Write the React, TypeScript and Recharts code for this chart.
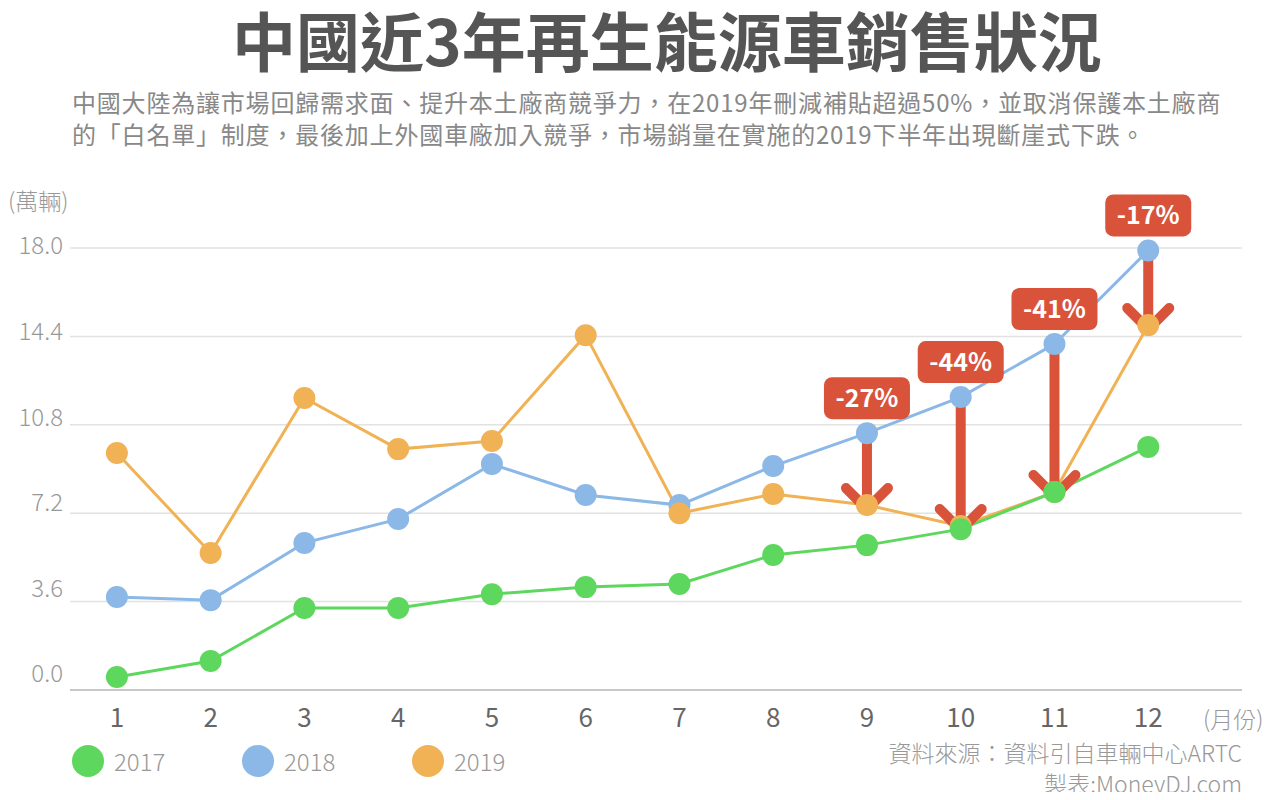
import {
    LineChart,
    Line,
    XAxis,
    YAxis,
    CartesianGrid,
    ReferenceLine,
    ReferenceDot,
} from "recharts";

const months = [1, 2, 3, 4, 5, 6, 7, 8, 9, 10, 11, 12];
const sales2017 = [0.53, 1.18, 3.34, 3.34, 3.9, 4.19, 4.32, 5.5, 5.9, 6.55, 8.06, 9.9];
const sales2018 = [3.79, 3.66, 5.99, 6.96, 9.2, 7.94, 7.53, 9.12, 10.46, 11.93, 14.09, 17.9];
const sales2019 = [9.65, 5.58, 11.89, 9.81, 10.14, 14.45, 7.2, 7.98, 7.53, 6.68, 8.06, 14.86];
const yTicks = [0, 3.6, 7.2, 10.8, 14.4, 18];
const dropMonths = [9, 10, 11, 12];
const dropLabels = ["-27%", "-44%", "-41%", "-17%"];

const GREEN = "#5dd75d";
const BLUE = "#8bb8e6";
const ORANGE = "#f0b254";
const RED = "#d9533a";
const FONT = "'Noto Sans CJK TC', 'Noto Sans', sans-serif";

const data = months.map((m, i) => ({
    month: m,
    y2017: sales2017[i],
    y2018: sales2018[i],
    y2019: sales2019[i],
}));

const legendItems = [
    { label: "2017", color: GREEN, x: 88 },
    { label: "2018", color: BLUE, x: 258 },
    { label: "2019", color: ORANGE, x: 428 },
];

// y tick labels in the original drift a bit above their grid lines
function YTick(props: any) {
    const { y, payload } = props;
    const shift = -2 - ((18 - payload.value) / 18) * 14;
    return (
        <text x={63} y={y + shift} dy="0.35em" textAnchor="end" fill="#999" fontSize={24} fontFamily={FONT} fontWeight={300}>
            {payload.value.toFixed(1)}
        </text>
    );
}

function XTick(props: any) {
    const { x, y, payload } = props;
    return (
        <text x={x} y={y + 20} dy="0.35em" textAnchor="middle" fill="#666" fontSize={26} fontFamily={FONT}>
            {payload.value}
        </text>
    );
}

function DropArrow(props: any) {
    const { x1, y1, x2, y2 } = props;
    const tip = y2 + 4;
    return (
        <g>
            <line x1={x1} y1={y1} x2={x2} y2={tip - 3} stroke={RED} strokeWidth={10} strokeLinecap="round" />
            <polyline
                points={`${x2 - 21},${tip - 21} ${x2},${tip} ${x2 + 21},${tip - 21}`}
                fill="none"
                stroke={RED}
                strokeWidth={10}
                strokeLinecap="round"
                strokeLinejoin="round"
            />
        </g>
    );
}

function dropBox(label: string) {
    return (props: any) => {
        const { cx, cy } = props;
        return (
            <g>
                <rect x={cx - 43} y={cy - 56} width={86} height={42} rx={8} fill={RED} />
                <text x={cx} y={cy - 35} dy="0.35em" textAnchor="middle" fill="#fff" fontSize={25} fontWeight={700} fontFamily={FONT}>
                    {label}
                </text>
            </g>
        );
    };
}

export default function App() {
    return (
        <div style={{ position: "relative", width: 1280, height: 800, background: "#fff", fontFamily: FONT, margin: -8 }}>
            <div style={{ position: "absolute", left: 232, top: 2, fontSize: 64, fontWeight: 700, color: "#555", whiteSpace: "nowrap", lineHeight: "72px" }}>
                中國近3年再生能源車銷售狀況
            </div>
            <div style={{ position: "absolute", left: 72, top: 86, fontSize: 24, letterSpacing: 0.8, color: "#888", whiteSpace: "nowrap", lineHeight: "32px" }}>
                <div>中國大陸為讓市場回歸需求面、提升本土廠商競爭力，在2019年刪減補貼超過50%，並取消保護本土廠商</div>
                <div>的「白名單」制度，最後加上外國車廠加入競爭，市場銷量在實施的2019下半年出現斷崖式下跌。</div>
            </div>
            <div style={{ position: "absolute", left: 8, top: 185, fontSize: 23, color: "#999", fontWeight: 300, lineHeight: "30px" }}>
                (萬輛)
            </div>

            <LineChart width={1280} height={800} data={data} margin={{ top: 248, right: 38, bottom: 80, left: 0 }}>
                <CartesianGrid vertical={false} stroke="#e2e2e2" strokeWidth={1.5} />
                <XAxis
                    dataKey="month"
                    type="number"
                    domain={[0.5, 13]}
                    ticks={months}
                    axisLine={{ stroke: "#c8c8c8", strokeWidth: 2 }}
                    tickLine={false}
                    tick={<XTick />}
                    height={30}
                />
                <YAxis
                    domain={[0, 18]}
                    ticks={yTicks}
                    width={70}
                    axisLine={false}
                    tickLine={false}
                    tick={<YTick />}
                />
                <Line dataKey="y2018" stroke={BLUE} strokeWidth={3} dot={{ r: 11, fill: BLUE, stroke: "none" }} isAnimationActive={false} />
                <Line dataKey="y2019" stroke={ORANGE} strokeWidth={3} dot={{ r: 11, fill: ORANGE, stroke: "none" }} isAnimationActive={false} />
                <Line dataKey="y2017" stroke={GREEN} strokeWidth={3} dot={{ r: 11, fill: GREEN, stroke: "none" }} isAnimationActive={false} />
                {dropMonths.map((m) => (
                    <ReferenceLine
                        key={`arrow-${m}`}
                        segment={[
                            { x: m, y: sales2018[m - 1] },
                            { x: m, y: sales2019[m - 1] },
                        ]}
                        ifOverflow="visible"
                        shape={<DropArrow />}
                    />
                ))}
                {dropMonths.map((m, i) => (
                    <ReferenceDot
                        key={`box-${m}`}
                        x={m}
                        y={sales2018[m - 1]}
                        ifOverflow="visible"
                        shape={dropBox(dropLabels[i])}
                    />
                ))}
            </LineChart>

            <div style={{ position: "absolute", left: 1203, top: 702, fontSize: 23, color: "#999", fontWeight: 300, lineHeight: "32px" }}>
                (月份)
            </div>
            {legendItems.map((item) => (
                <div key={item.label} style={{ position: "absolute", left: item.x - 16, top: 745, display: "flex", alignItems: "center", height: 32 }}>
                    <span style={{ width: 32, height: 32, borderRadius: 16, background: item.color, display: "inline-block" }} />
                    <span style={{ marginLeft: 10, fontSize: 24, color: "#999", fontWeight: 300, lineHeight: "32px" }}>{item.label}</span>
                </div>
            ))}
            <div style={{ position: "absolute", right: 38, top: 737, fontSize: 23, color: "#999", textAlign: "right", lineHeight: "31px", fontWeight: 300 }}>
                <div>資料來源：資料引自車輛中心ARTC</div>
                <div>製表:MoneyDJ.com</div>
            </div>
        </div>
    );
}
